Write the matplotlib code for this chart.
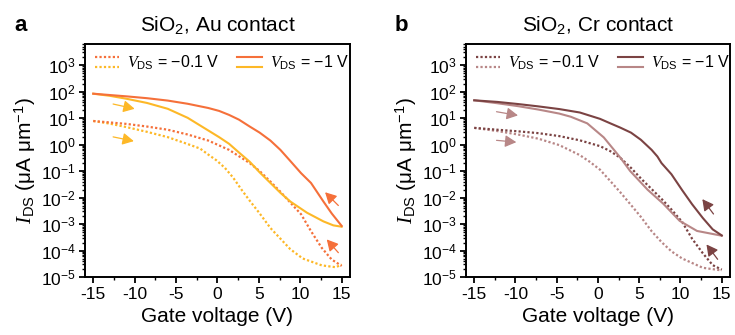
import matplotlib
matplotlib.use("Agg")
import matplotlib.pyplot as plt
import numpy as np
from matplotlib.lines import Line2D
from matplotlib.legend_handler import HandlerBase
from matplotlib.ticker import LogLocator, MultipleLocator, NullFormatter

plt.rcParams['font.family'] = ['Liberation Sans', 'DejaVu Sans']
plt.rcParams['mathtext.fontset'] = 'custom'
plt.rcParams['mathtext.rm'] = 'Liberation Sans'
plt.rcParams['mathtext.it'] = 'Liberation Serif:italic'
plt.rcParams['mathtext.bf'] = 'Liberation Sans:bold'
plt.rcParams['axes.unicode_minus'] = False

# transfer curves, currents given as log10(I_DS / uA um^-1)
# panel a: Au contact
au_fwd_1v_vg = [-15, -13, -11, -8.5, -6, -3.6, -1.1, 0.2, 1.4, 2.6, 3.9, 5.1, 6.4, 7.6, 8.8, 10.8, 12.8, 14, 15]
au_fwd_1v = [1.92, 1.84, 1.73, 1.57, 1.35, 1.01, 0.53, 0.28, 0.03, -0.3, -0.65, -1.05, -1.45, -1.82, -2.15,
             -2.57, -2.9, -3.05, -3.1]
au_rev_1v_vg = [-15, -11, -8.5, -6, -3.6, -1.1, 0.2, 1.4, 2.6, 3.9, 5.1, 6.4, 7.6, 8.8, 10.1, 11.3, 12.8, 13.8, 15]
au_rev_1v = [1.92, 1.82, 1.75, 1.66, 1.54, 1.38, 1.27, 1.12, 0.94, 0.68, 0.45, 0.15, -0.2, -0.62, -1.08,
             -1.45, -2.15, -2.6, -3.07]
au_fwd_01v_vg = [-15, -13, -11, -8.5, -6, -3.6, -2.1, -1.1, -0.1, 0.9, 1.9, 2.9, 3.9, 5.1, 6.4, 7.6, 8.8,
                 10.3, 12.6, 14.3, 15]
au_fwd_01v = [0.89, 0.79, 0.66, 0.48, 0.28, 0.02, -0.15, -0.38, -0.6, -0.88, -1.25, -1.7, -2.12, -2.6,
              -3.15, -3.55, -3.95, -4.3, -4.56, -4.63, -4.53]
au_rev_01v_vg = [-15, -11, -8.5, -6, -3.6, -1.1, 1.4, 3.9, 5.1, 6.4, 7.6, 8.8, 10.1, 11.3, 12.6, 13.8, 15]
au_rev_01v = [0.89, 0.78, 0.68, 0.56, 0.38, 0.15, -0.2, -0.7, -1.0, -1.4, -1.78, -2.19, -2.63, -3.27,
              -3.9, -4.34, -4.58]

# panel b: Cr contact
cr_fwd_1v_vg = [-15, -12.2, -9.7, -7.2, -4.7, -3.3, -1.3, 0.7, 2.7, 3.9, 6, 7.9, 9.9, 12, 15]
cr_fwd_1v = [1.67, 1.56, 1.45, 1.32, 1.17, 1.05, 0.8, 0.27, -0.49, -1.0, -1.7, -2.23, -2.88, -3.26, -3.44]
cr_rev_1v_vg = [-15, -12.2, -9.7, -7.2, -4.7, -2.2, 0.25, 1.5, 2.7, 4, 5.2, 6.5, 7.2, 7.7, 8.9, 10.2, 11.4,
                12.7, 13.9, 15]
cr_rev_1v = [1.67, 1.61, 1.53, 1.44, 1.34, 1.21, 0.97, 0.8, 0.64, 0.45, 0.18, -0.2, -0.45, -0.7, -1.12,
             -1.72, -2.25, -2.77, -3.2, -3.43]
cr_fwd_01v_vg = [-15, -12.2, -9.7, -7.2, -4.7, -3.5, -2.2, -1, 0.25, 1.5, 2.7, 4, 5.2, 6.5, 7.7, 8.9, 10.2,
                 12.7, 15]
cr_fwd_01v = [0.63, 0.51, 0.38, 0.22, -0.02, -0.2, -0.4, -0.65, -0.95, -1.38, -1.8, -2.28, -2.73, -3.27,
              -3.68, -4.03, -4.3, -4.65, -4.75]
cr_rev_01v_vg = [-15, -12.2, -9.7, -7.2, -4.7, -2.2, 0.25, 1.5, 2.7, 4, 5.2, 6.5, 7.7, 8.9, 10.2, 11.4, 12.7,
                 13.9, 15]
cr_rev_01v = [0.63, 0.56, 0.5, 0.43, 0.32, 0.16, -0.06, -0.25, -0.5, -0.88, -1.28, -1.68, -2.05, -2.45,
              -2.92, -3.55, -4.1, -4.55, -4.72]

# sweep direction arrows: (tail vg, tail log I, head vg, head log I)
au_arrows_fwd = [(-12.6, 1.53, -10.0, 1.35), (-12.6, 0.29, -10.1, 0.13)]
au_arrows_rev = [(14.6, -2.3, 13.0, -1.8), (14.6, -4.08, 13.2, -3.58)]
cr_arrows_fwd = [(-12.3, 1.24, -9.7, 1.1), (-12.3, 0.16, -9.9, 0.09)]
cr_arrows_rev = [(14.0, -2.62, 12.65, -2.06), (14.5, -4.33, 13.15, -3.77)]

au_colors = ('#F5703A', '#FDB827')   # reverse, forward
cr_colors = ('#7B4343', '#B88787')


class StackedLines(HandlerBase):
    """Draw a tuple of lines one above the other in the legend."""
    def create_artists(self, legend, orig_handle, xdescent, ydescent,
                       width, height, fontsize, trans):
        artists = []
        center = height / 2 - ydescent
        for i, src in enumerate(orig_handle):
            y = center + (0.42 - 0.84 * i) * height
            ln = Line2D([-xdescent, width - xdescent], [y, y])
            ln.update_from(src)
            ln.set_transform(trans)
            artists.append(ln)
        return artists


def draw_panel(ax, curves, colors, arrows_fwd, arrows_rev, title):
    c_rev, c_fwd = colors
    (fwd1_vg, fwd1), (rev1_vg, rev1), (fwd01_vg, fwd01), (rev01_vg, rev01) = curves
    dots = (0, (1, 1))

    ax.plot(fwd01_vg, 10.0 ** np.array(fwd01), color=c_fwd, ls=dots, lw=1.6)
    ax.plot(rev01_vg, 10.0 ** np.array(rev01), color=c_rev, ls=dots, lw=1.6)
    ax.plot(fwd1_vg, 10.0 ** np.array(fwd1), color=c_fwd, lw=1.5)
    ax.plot(rev1_vg, 10.0 ** np.array(rev1), color=c_rev, lw=1.5)

    for arrows, c in ((arrows_fwd, c_fwd), (arrows_rev, c_rev)):
        for x0, y0, x1, y1 in arrows:
            ax.annotate('', xy=(x1, 10.0 ** y1), xytext=(x0, 10.0 ** y0),
                        arrowprops=dict(arrowstyle='-|>,head_length=0.75,head_width=0.4',
                                        color=c, lw=0.9, mutation_scale=9,
                                        shrinkA=0, shrinkB=0))

    ax.set_yscale('log')
    ax.set_xlim(-16, 16)
    ax.set_ylim(1e-5, 10 ** 3.8)
    ax.xaxis.set_major_locator(MultipleLocator(5))
    ax.xaxis.set_minor_locator(MultipleLocator(2.5))
    ax.yaxis.set_major_locator(LogLocator(base=10, numticks=20))
    ax.yaxis.set_minor_locator(LogLocator(base=10, subs=np.arange(2, 10), numticks=100))
    ax.yaxis.set_minor_formatter(NullFormatter())
    ax.tick_params(which='both', direction='out', top=False, right=False, labelsize=12.5)
    ax.tick_params(which='major', length=4.5, width=1.3)
    ax.tick_params(axis='x', which='major', pad=3)
    ax.tick_params(axis='y', which='major', pad=2)
    ax.tick_params(which='minor', length=2.5, width=1.0)
    for sp in ax.spines.values():
        sp.set_linewidth(1.4)

    ax.set_xlabel('Gate voltage (V)', fontsize=15, labelpad=3)
    ax.set_ylabel(r'$I_{\mathrm{DS}}$ ($\mathrm{\mu}$A $\mathrm{\mu}$m$^{-1}$)', fontsize=15, labelpad=2)
    ax.set_title(title, fontsize=15, pad=9)

    h01 = (Line2D([], [], color=c_rev, ls=dots, lw=1.6),
           Line2D([], [], color=c_fwd, ls=dots, lw=1.6))
    h1 = (Line2D([], [], color=c_rev, lw=1.5), Line2D([], [], color=c_fwd, lw=1.5))
    ax.legend([h01, h1], [r'$V_{\mathrm{DS}}$ = −0.1 V', r'$V_{\mathrm{DS}}$ = −1 V'],
              handler_map={tuple: StackedLines()}, loc='upper left', ncol=2,
              frameon=False, fontsize=11.5, handlelength=1.55, handletextpad=0.5,
              columnspacing=1.1, borderaxespad=0.2, bbox_to_anchor=(0.0, 1.0))


fig = plt.figure(figsize=(7.35, 3.35), dpi=100)
ax_a = fig.add_axes([0.1156, 0.173, 0.3605, 0.696])
ax_b = fig.add_axes([0.634, 0.173, 0.3592, 0.696])

draw_panel(ax_a,
           [(au_fwd_1v_vg, au_fwd_1v), (au_rev_1v_vg, au_rev_1v),
            (au_fwd_01v_vg, au_fwd_01v), (au_rev_01v_vg, au_rev_01v)],
           au_colors, au_arrows_fwd, au_arrows_rev, r'SiO$_2$, Au contact')
draw_panel(ax_b,
           [(cr_fwd_1v_vg, cr_fwd_1v), (cr_rev_1v_vg, cr_rev_1v),
            (cr_fwd_01v_vg, cr_fwd_01v), (cr_rev_01v_vg, cr_rev_01v)],
           cr_colors, cr_arrows_fwd, cr_arrows_rev, r'SiO$_2$, Cr contact')

fig.text(0.020, 0.925, 'a', fontsize=16, fontweight='bold', va='center', ha='left')
fig.text(0.537, 0.925, 'b', fontsize=16, fontweight='bold', va='center', ha='left')

fig.savefig('out.png', dpi=100)
